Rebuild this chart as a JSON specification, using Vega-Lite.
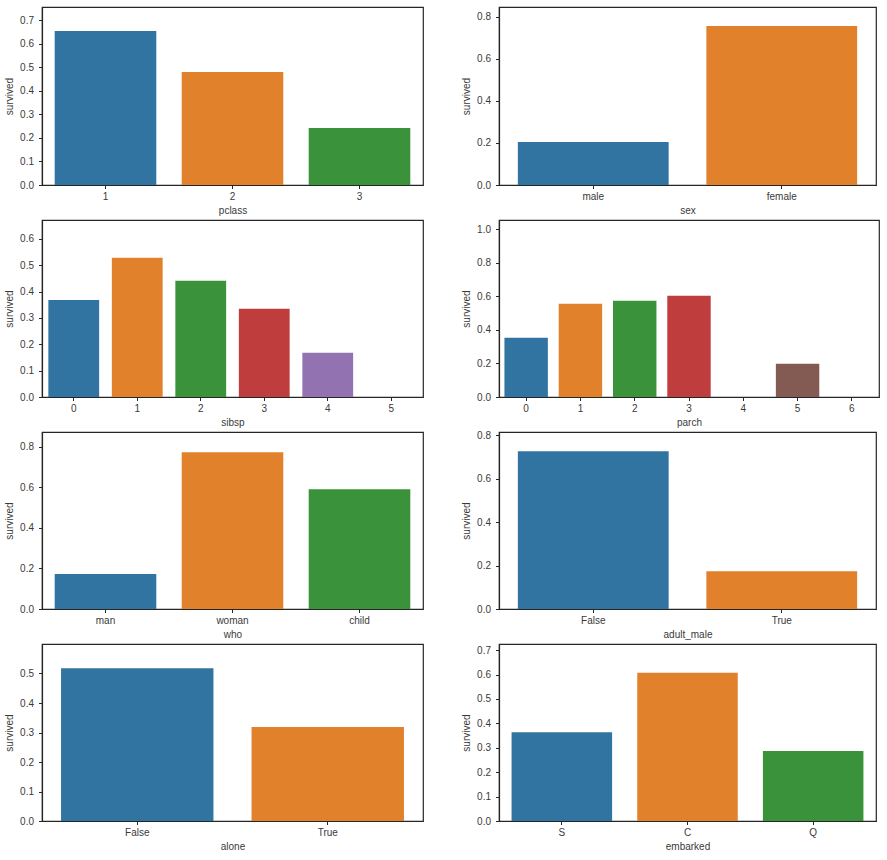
{
  "$schema": "https://vega.github.io/schema/vega-lite/v6.json",
  "padding": {"left": 3, "top": 6, "right": 5, "bottom": 5},
  "background": "white",
  "datasets": {
    "pclass": [{"cat": "1", "survived": 0.654}, {"cat": "2", "survived": 0.480}, {"cat": "3", "survived": 0.242}],
    "sex": [{"cat": "male", "survived": 0.204}, {"cat": "female", "survived": 0.756}],
    "sibsp": [{"cat": "0", "survived": 0.368}, {"cat": "1", "survived": 0.529}, {"cat": "2", "survived": 0.441}, {"cat": "3", "survived": 0.335}, {"cat": "4", "survived": 0.168}, {"cat": "5", "survived": 0.0}],
    "parch": [{"cat": "0", "survived": 0.353}, {"cat": "1", "survived": 0.555}, {"cat": "2", "survived": 0.573}, {"cat": "3", "survived": 0.603}, {"cat": "4", "survived": 0.0}, {"cat": "5", "survived": 0.198}, {"cat": "6", "survived": 0.0}],
    "who": [{"cat": "man", "survived": 0.172}, {"cat": "woman", "survived": 0.772}, {"cat": "child", "survived": 0.590}],
    "adult_male": [{"cat": "False", "survived": 0.725}, {"cat": "True", "survived": 0.174}],
    "alone": [{"cat": "False", "survived": 0.518}, {"cat": "True", "survived": 0.319}],
    "embarked": [{"cat": "S", "survived": 0.364}, {"cat": "C", "survived": 0.607}, {"cat": "Q", "survived": 0.287}]
  },
  "columns": 2,
  "bounds": "flush",
  "spacing": {"row": 35, "column": 76},
  "resolve": {"scale": {"color": "independent", "x": "independent", "y": "independent"}},
  "concat": [
    {
      "data": {"name": "pclass"}, "width": 381, "height": 178,
      "mark": {"type": "bar"},
      "encoding": {
        "x": {"field": "cat", "type": "nominal", "title": "pclass", "scale": {"domain": ["1", "2", "3"], "paddingInner": 0.2, "paddingOuter": 0.1}},
        "y": {"field": "survived", "type": "quantitative", "title": "survived", "scale": {"domain": [0, 0.756], "nice": false, "zero": true}, "axis": {"values": [0, 0.1, 0.2, 0.3, 0.4, 0.5, 0.6, 0.7], "format": ".1f"}},
        "color": {"field": "cat", "type": "nominal", "scale": {"domain": ["1", "2", "3"], "range": ["#3274a1", "#e1812c", "#3a923a"]}, "legend": null}
      }
    },
    {
      "data": {"name": "sex"}, "width": 377, "height": 178,
      "mark": {"type": "bar"},
      "encoding": {
        "x": {"field": "cat", "type": "nominal", "title": "sex", "scale": {"domain": ["male", "female"], "paddingInner": 0.2, "paddingOuter": 0.1}},
        "y": {"field": "survived", "type": "quantitative", "title": "survived", "scale": {"domain": [0, 0.846], "nice": false, "zero": true}, "axis": {"values": [0, 0.2, 0.4, 0.6, 0.8], "format": ".1f"}},
        "color": {"field": "cat", "type": "nominal", "scale": {"domain": ["male", "female"], "range": ["#3274a1", "#e1812c"]}, "legend": null}
      }
    },
    {
      "data": {"name": "sibsp"}, "width": 381, "height": 177,
      "mark": {"type": "bar"},
      "encoding": {
        "x": {"field": "cat", "type": "nominal", "title": "sibsp", "scale": {"domain": ["0", "1", "2", "3", "4", "5"], "paddingInner": 0.2, "paddingOuter": 0.1}},
        "y": {"field": "survived", "type": "quantitative", "title": "survived", "scale": {"domain": [0, 0.672], "nice": false, "zero": true}, "axis": {"values": [0, 0.1, 0.2, 0.3, 0.4, 0.5, 0.6], "format": ".1f"}},
        "color": {"field": "cat", "type": "nominal", "scale": {"domain": ["0", "1", "2", "3", "4", "5"], "range": ["#3274a1", "#e1812c", "#3a923a", "#c03d3e", "#9372b2", "#845b53"]}, "legend": null}
      }
    },
    {
      "data": {"name": "parch"}, "width": 380, "height": 177,
      "mark": {"type": "bar"},
      "encoding": {
        "x": {"field": "cat", "type": "nominal", "title": "parch", "scale": {"domain": ["0", "1", "2", "3", "4", "5", "6"], "paddingInner": 0.2, "paddingOuter": 0.1}},
        "y": {"field": "survived", "type": "quantitative", "title": "survived", "scale": {"domain": [0, 1.054], "nice": false, "zero": true}, "axis": {"values": [0, 0.2, 0.4, 0.6, 0.8, 1.0], "format": ".1f"}},
        "color": {"field": "cat", "type": "nominal", "scale": {"domain": ["0", "1", "2", "3", "4", "5", "6"], "range": ["#3274a1", "#e1812c", "#3a923a", "#c03d3e", "#9372b2", "#845b53", "#d684bd"]}, "legend": null}
      }
    },
    {
      "data": {"name": "who"}, "width": 381, "height": 177,
      "mark": {"type": "bar"},
      "encoding": {
        "x": {"field": "cat", "type": "nominal", "title": "who", "scale": {"domain": ["man", "woman", "child"], "paddingInner": 0.2, "paddingOuter": 0.1}},
        "y": {"field": "survived", "type": "quantitative", "title": "survived", "scale": {"domain": [0, 0.872], "nice": false, "zero": true}, "axis": {"values": [0, 0.2, 0.4, 0.6, 0.8], "format": ".1f"}},
        "color": {"field": "cat", "type": "nominal", "scale": {"domain": ["man", "woman", "child"], "range": ["#3274a1", "#e1812c", "#3a923a"]}, "legend": null}
      }
    },
    {
      "data": {"name": "adult_male"}, "width": 377, "height": 177,
      "mark": {"type": "bar"},
      "encoding": {
        "x": {"field": "cat", "type": "nominal", "title": "adult_male", "scale": {"domain": ["False", "True"], "paddingInner": 0.2, "paddingOuter": 0.1}},
        "y": {"field": "survived", "type": "quantitative", "title": "survived", "scale": {"domain": [0, 0.814], "nice": false, "zero": true}, "axis": {"values": [0, 0.2, 0.4, 0.6, 0.8], "format": ".1f"}},
        "color": {"field": "cat", "type": "nominal", "scale": {"domain": ["False", "True"], "range": ["#3274a1", "#e1812c"]}, "legend": null}
      }
    },
    {
      "data": {"name": "alone"}, "width": 381, "height": 177,
      "mark": {"type": "bar"},
      "encoding": {
        "x": {"field": "cat", "type": "nominal", "title": "alone", "scale": {"domain": ["False", "True"], "paddingInner": 0.2, "paddingOuter": 0.1}},
        "y": {"field": "survived", "type": "quantitative", "title": "survived", "scale": {"domain": [0, 0.600], "nice": false, "zero": true}, "axis": {"values": [0, 0.1, 0.2, 0.3, 0.4, 0.5], "format": ".1f"}},
        "color": {"field": "cat", "type": "nominal", "scale": {"domain": ["False", "True"], "range": ["#3274a1", "#e1812c"]}, "legend": null}
      }
    },
    {
      "data": {"name": "embarked"}, "width": 377, "height": 177,
      "mark": {"type": "bar"},
      "encoding": {
        "x": {"field": "cat", "type": "nominal", "title": "embarked", "scale": {"domain": ["S", "C", "Q"], "paddingInner": 0.2, "paddingOuter": 0.1}},
        "y": {"field": "survived", "type": "quantitative", "title": "survived", "scale": {"domain": [0, 0.725], "nice": false, "zero": true}, "axis": {"values": [0, 0.1, 0.2, 0.3, 0.4, 0.5, 0.6, 0.7], "format": ".1f"}},
        "color": {"field": "cat", "type": "nominal", "scale": {"domain": ["S", "C", "Q"], "range": ["#3274a1", "#e1812c", "#3a923a"]}, "legend": null}
      }
    }
  ],
  "config": {
    "font": "Liberation Sans",
    "view": {"stroke": "#262626", "strokeWidth": 1.2},
    "axis": {
      "grid": false,
      "domain": true,
      "domainColor": "#262626",
      "domainWidth": 1.2,
      "ticks": true,
      "tickColor": "#262626",
      "tickSize": 3.5,
      "tickWidth": 1,
      "labelFont": "Liberation Sans",
      "labelFontSize": 10,
      "labelColor": "#3a3a3a",
      "labelPadding": 3,
      "titleFont": "Liberation Sans",
      "titleFontSize": 10,
      "titleFontWeight": "normal",
      "titleColor": "#3a3a3a",
      "titlePadding": 4
    },
    "axisX": {"labelAngle": 0},
    "axisY": {"labelPadding": 5, "titlePadding": 5}
  }
}
